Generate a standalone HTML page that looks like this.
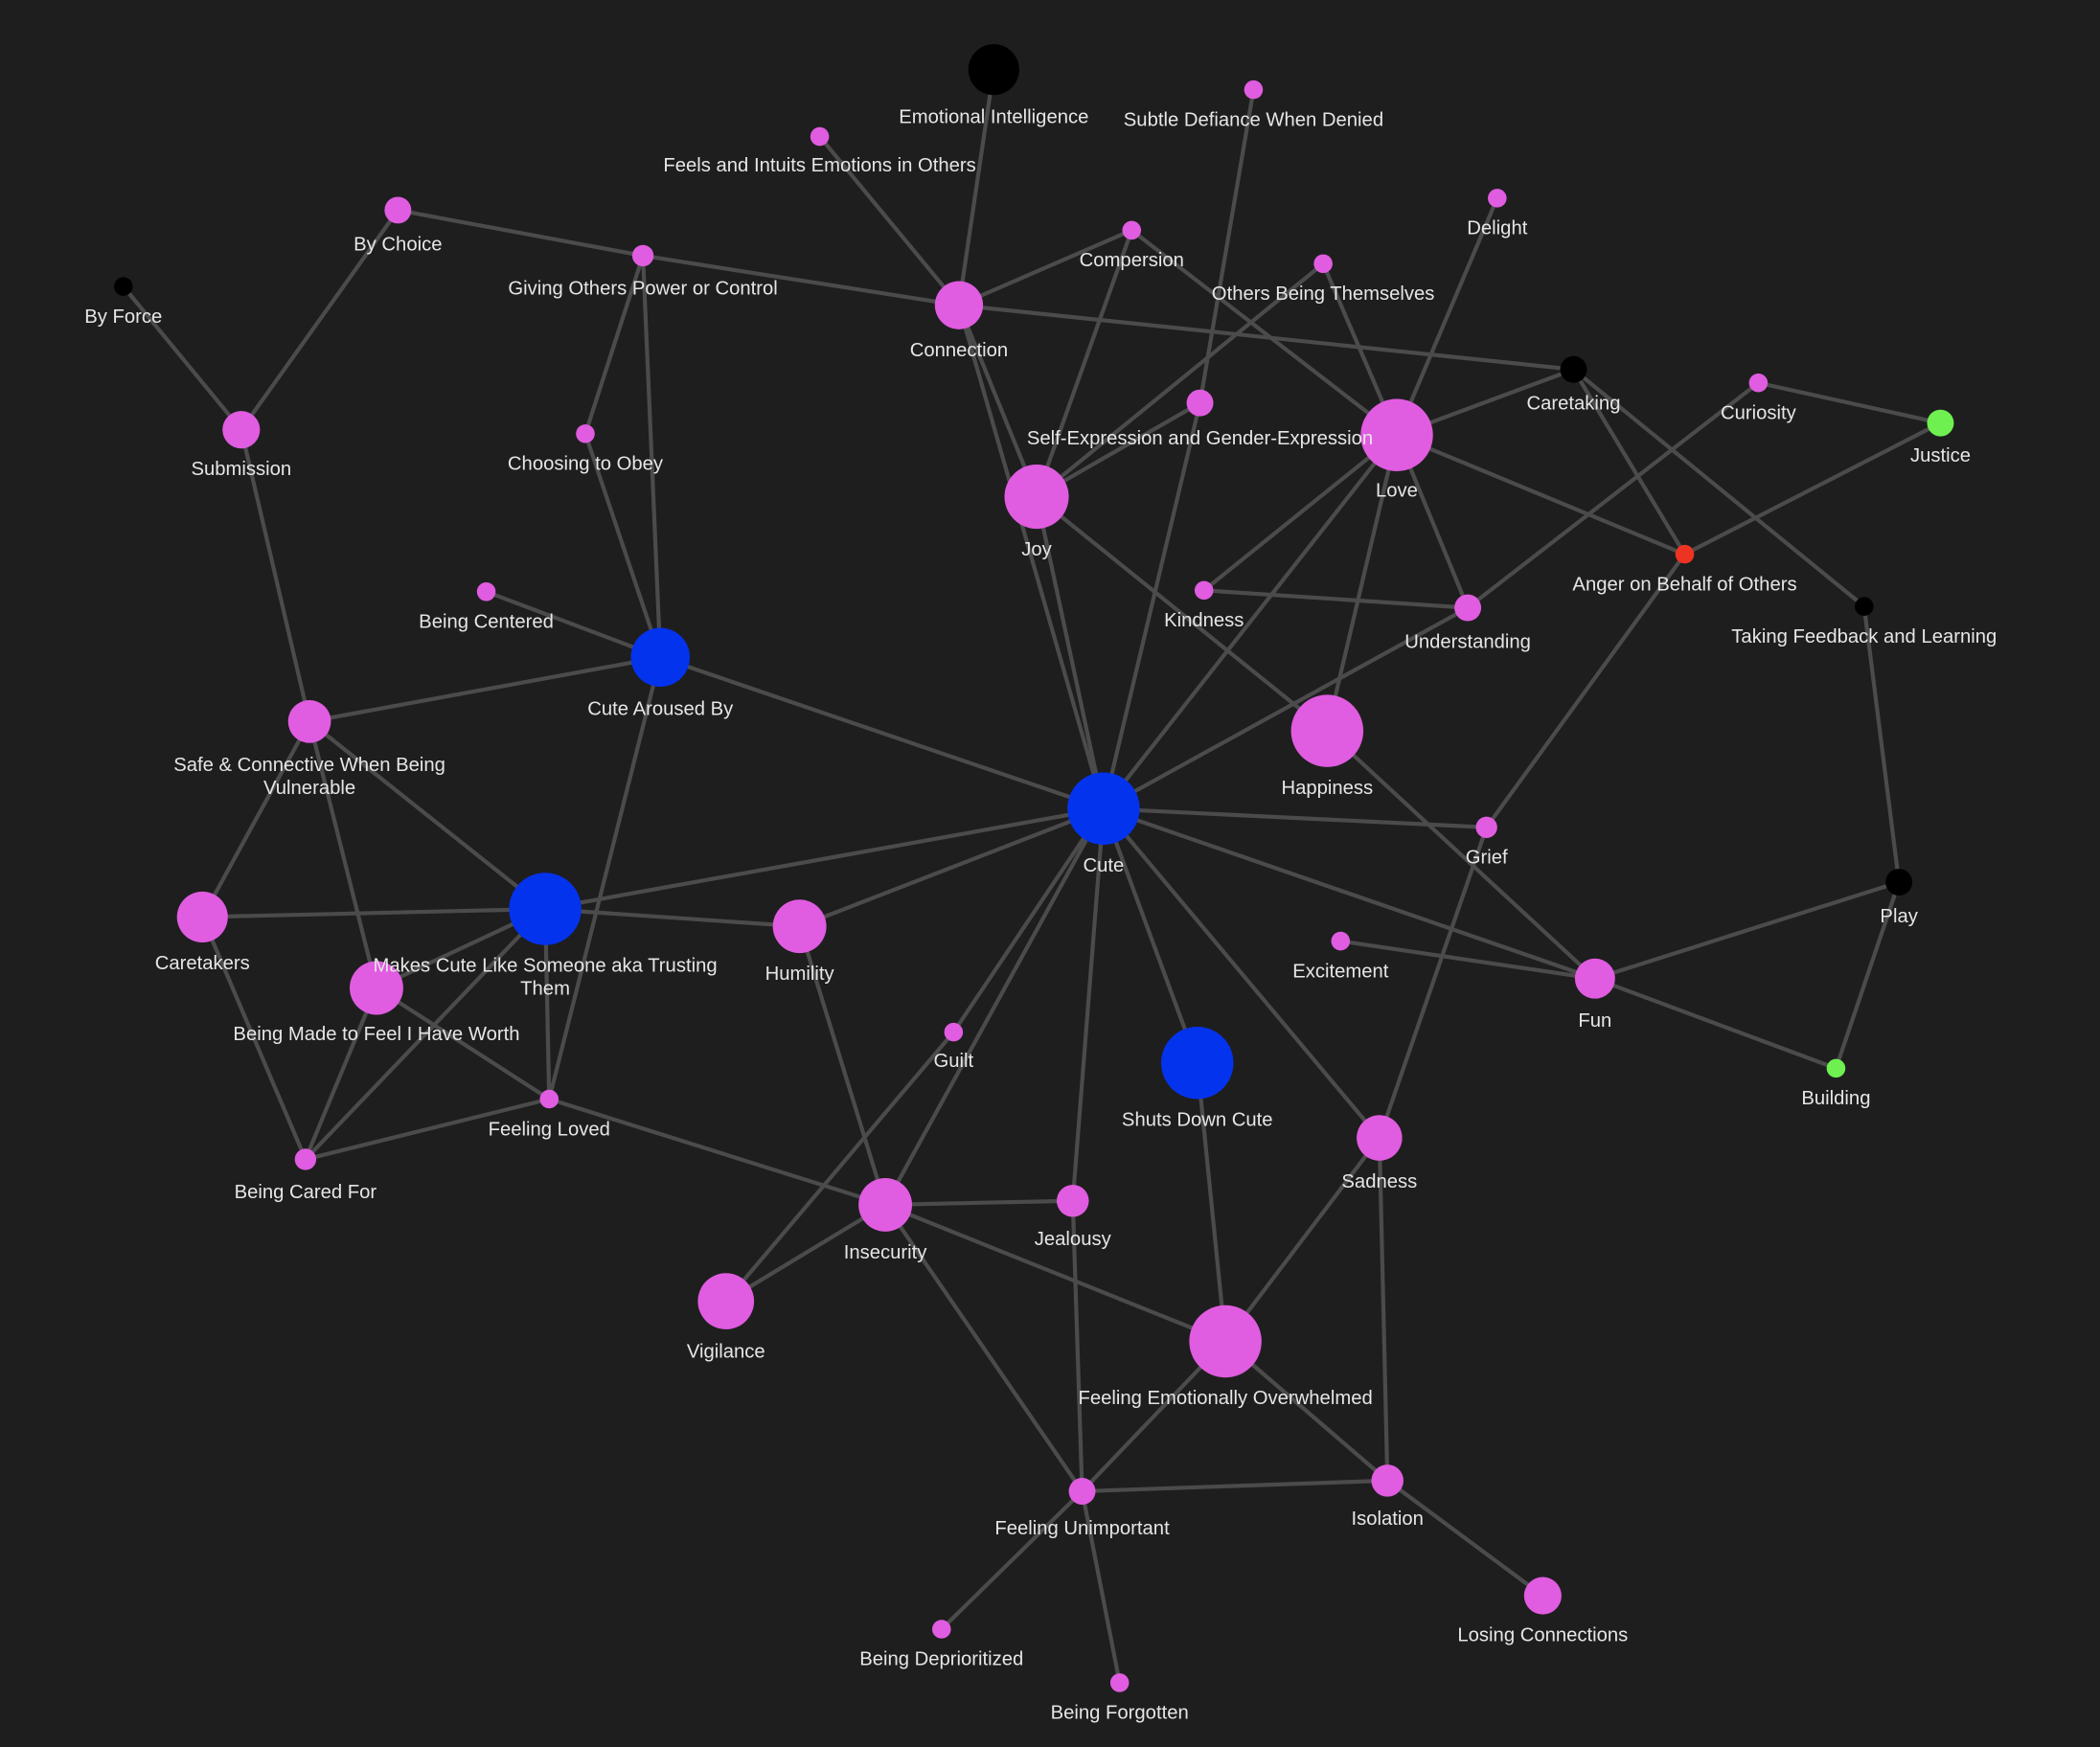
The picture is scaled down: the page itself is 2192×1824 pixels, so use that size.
<!DOCTYPE html>
<html><head><meta charset="utf-8"><style>
html,body{margin:0;padding:0;background:#1e1e1e;}
svg{display:block}
text{font-family:"Liberation Sans",sans-serif;font-size:14.5px;fill:#e6e6e6;text-anchor:middle}
line{stroke:#4b4b4b;stroke-width:3}
</style></head><body>
<svg width="2192" height="1824" viewBox="0 0 1568 1305" xmlns="http://www.w3.org/2000/svg">
<rect width="1568" height="1305" fill="#1e1e1e"/>
<g id="edges">
<line x1="742" y1="52" x2="716" y2="228"/>
<line x1="612" y1="102" x2="716" y2="228"/>
<line x1="297" y1="157" x2="480" y2="191"/>
<line x1="480" y1="191" x2="716" y2="228"/>
<line x1="716" y1="228" x2="1175" y2="276"/>
<line x1="716" y1="228" x2="845" y2="172"/>
<line x1="716" y1="228" x2="774" y2="371"/>
<line x1="716" y1="228" x2="824" y2="604"/>
<line x1="845" y1="172" x2="1043" y2="325"/>
<line x1="845" y1="172" x2="774" y2="371"/>
<line x1="936" y1="67" x2="896" y2="301"/>
<line x1="988" y1="197" x2="774" y2="371"/>
<line x1="988" y1="197" x2="1043" y2="325"/>
<line x1="1118" y1="148" x2="1043" y2="325"/>
<line x1="1043" y1="325" x2="1175" y2="276"/>
<line x1="1043" y1="325" x2="1258" y2="414"/>
<line x1="1043" y1="325" x2="1096" y2="454"/>
<line x1="1043" y1="325" x2="824" y2="604"/>
<line x1="1043" y1="325" x2="899" y2="441"/>
<line x1="1043" y1="325" x2="991" y2="546"/>
<line x1="1175" y1="276" x2="1258" y2="414"/>
<line x1="1175" y1="276" x2="1392" y2="453"/>
<line x1="1313" y1="286" x2="1449" y2="316"/>
<line x1="1313" y1="286" x2="1096" y2="454"/>
<line x1="1449" y1="316" x2="1258" y2="414"/>
<line x1="1258" y1="414" x2="1110" y2="618"/>
<line x1="1392" y1="453" x2="1418" y2="659"/>
<line x1="1418" y1="659" x2="1191" y2="731"/>
<line x1="1418" y1="659" x2="1371" y2="798"/>
<line x1="1191" y1="731" x2="1371" y2="798"/>
<line x1="1191" y1="731" x2="824" y2="604"/>
<line x1="1191" y1="731" x2="1001" y2="703"/>
<line x1="991" y1="546" x2="1191" y2="731"/>
<line x1="774" y1="371" x2="991" y2="546"/>
<line x1="896" y1="301" x2="774" y2="371"/>
<line x1="896" y1="301" x2="824" y2="604"/>
<line x1="899" y1="441" x2="1096" y2="454"/>
<line x1="1096" y1="454" x2="824" y2="604"/>
<line x1="774" y1="371" x2="824" y2="604"/>
<line x1="824" y1="604" x2="1110" y2="618"/>
<line x1="824" y1="604" x2="493" y2="491"/>
<line x1="824" y1="604" x2="407" y2="679"/>
<line x1="824" y1="604" x2="597" y2="692"/>
<line x1="824" y1="604" x2="661" y2="900"/>
<line x1="824" y1="604" x2="712" y2="771"/>
<line x1="712" y1="771" x2="542" y2="972"/>
<line x1="824" y1="604" x2="801" y2="897"/>
<line x1="824" y1="604" x2="894" y2="794"/>
<line x1="824" y1="604" x2="1030" y2="850"/>
<line x1="894" y1="794" x2="915" y2="1002"/>
<line x1="1030" y1="850" x2="915" y2="1002"/>
<line x1="1030" y1="850" x2="1036" y2="1106"/>
<line x1="1110" y1="618" x2="1030" y2="850"/>
<line x1="915" y1="1002" x2="1036" y2="1106"/>
<line x1="915" y1="1002" x2="808" y2="1114"/>
<line x1="661" y1="900" x2="915" y2="1002"/>
<line x1="661" y1="900" x2="801" y2="897"/>
<line x1="661" y1="900" x2="542" y2="972"/>
<line x1="661" y1="900" x2="808" y2="1114"/>
<line x1="661" y1="900" x2="597" y2="692"/>
<line x1="661" y1="900" x2="410" y2="821"/>
<line x1="801" y1="897" x2="808" y2="1114"/>
<line x1="808" y1="1114" x2="1036" y2="1106"/>
<line x1="808" y1="1114" x2="703" y2="1217"/>
<line x1="808" y1="1114" x2="836" y2="1257"/>
<line x1="1036" y1="1106" x2="1152" y2="1192"/>
<line x1="92" y1="214" x2="180" y2="321"/>
<line x1="297" y1="157" x2="180" y2="321"/>
<line x1="180" y1="321" x2="231" y2="539"/>
<line x1="480" y1="191" x2="437" y2="324"/>
<line x1="480" y1="191" x2="493" y2="491"/>
<line x1="437" y1="324" x2="493" y2="491"/>
<line x1="363" y1="442" x2="493" y2="491"/>
<line x1="231" y1="539" x2="493" y2="491"/>
<line x1="493" y1="491" x2="410" y2="821"/>
<line x1="231" y1="539" x2="407" y2="679"/>
<line x1="231" y1="539" x2="151" y2="685"/>
<line x1="231" y1="539" x2="281" y2="738"/>
<line x1="151" y1="685" x2="407" y2="679"/>
<line x1="151" y1="685" x2="228" y2="866"/>
<line x1="407" y1="679" x2="597" y2="692"/>
<line x1="407" y1="679" x2="281" y2="738"/>
<line x1="407" y1="679" x2="410" y2="821"/>
<line x1="407" y1="679" x2="228" y2="866"/>
<line x1="281" y1="738" x2="228" y2="866"/>
<line x1="281" y1="738" x2="410" y2="821"/>
<line x1="228" y1="866" x2="410" y2="821"/>
</g>
<g id="nodes">
<circle cx="742" cy="52" r="19" fill="#000"/>
<circle cx="936" cy="67" r="7" fill="#e05ce0"/>
<circle cx="612" cy="102" r="7" fill="#e05ce0"/>
<circle cx="297" cy="157" r="10" fill="#e05ce0"/>
<circle cx="480" cy="191" r="8" fill="#e05ce0"/>
<circle cx="92" cy="214" r="7" fill="#000"/>
<circle cx="716" cy="228" r="18" fill="#e05ce0"/>
<circle cx="845" cy="172" r="7" fill="#e05ce0"/>
<circle cx="988" cy="197" r="7" fill="#e05ce0"/>
<circle cx="1118" cy="148" r="7" fill="#e05ce0"/>
<circle cx="1175" cy="276" r="10" fill="#000"/>
<circle cx="1313" cy="286" r="7" fill="#e05ce0"/>
<circle cx="1449" cy="316" r="10" fill="#6ef050"/>
<circle cx="180" cy="321" r="14" fill="#e05ce0"/>
<circle cx="437" cy="324" r="7" fill="#e05ce0"/>
<circle cx="896" cy="301" r="10" fill="#e05ce0"/>
<circle cx="1043" cy="325" r="27" fill="#e05ce0"/>
<circle cx="774" cy="371" r="24" fill="#e05ce0"/>
<circle cx="1258" cy="414" r="7" fill="#ee3322"/>
<circle cx="1392" cy="453" r="7" fill="#000"/>
<circle cx="363" cy="442" r="7" fill="#e05ce0"/>
<circle cx="899" cy="441" r="7" fill="#e05ce0"/>
<circle cx="1096" cy="454" r="10" fill="#e05ce0"/>
<circle cx="493" cy="491" r="22" fill="#0433ee"/>
<circle cx="231" cy="539" r="16" fill="#e05ce0"/>
<circle cx="991" cy="546" r="27" fill="#e05ce0"/>
<circle cx="824" cy="604" r="27" fill="#0433ee"/>
<circle cx="1110" cy="618" r="8" fill="#e05ce0"/>
<circle cx="1418" cy="659" r="10" fill="#000"/>
<circle cx="151" cy="685" r="19" fill="#e05ce0"/>
<circle cx="407" cy="679" r="27" fill="#0433ee"/>
<circle cx="597" cy="692" r="20" fill="#e05ce0"/>
<circle cx="1001" cy="703" r="7" fill="#e05ce0"/>
<circle cx="1191" cy="731" r="15" fill="#e05ce0"/>
<circle cx="281" cy="738" r="20" fill="#e05ce0"/>
<circle cx="712" cy="771" r="7" fill="#e05ce0"/>
<circle cx="894" cy="794" r="27" fill="#0433ee"/>
<circle cx="1371" cy="798" r="7" fill="#6ef050"/>
<circle cx="410" cy="821" r="7" fill="#e05ce0"/>
<circle cx="1030" cy="850" r="17" fill="#e05ce0"/>
<circle cx="228" cy="866" r="8" fill="#e05ce0"/>
<circle cx="661" cy="900" r="20" fill="#e05ce0"/>
<circle cx="801" cy="897" r="12" fill="#e05ce0"/>
<circle cx="542" cy="972" r="21" fill="#e05ce0"/>
<circle cx="915" cy="1002" r="27" fill="#e05ce0"/>
<circle cx="808" cy="1114" r="10" fill="#e05ce0"/>
<circle cx="1036" cy="1106" r="12" fill="#e05ce0"/>
<circle cx="1152" cy="1192" r="14" fill="#e05ce0"/>
<circle cx="703" cy="1217" r="7" fill="#e05ce0"/>
<circle cx="836" cy="1257" r="7" fill="#e05ce0"/>
</g>
<g id="labels">
<text x="742" y="92">Emotional Intelligence</text>
<text x="936" y="94">Subtle Defiance When Denied</text>
<text x="612" y="128">Feels and Intuits Emotions in Others</text>
<text x="297" y="187">By Choice</text>
<text x="480" y="220">Giving Others Power or Control</text>
<text x="92" y="241">By Force</text>
<text x="716" y="266">Connection</text>
<text x="845" y="199">Compersion</text>
<text x="988" y="224">Others Being Themselves</text>
<text x="1118" y="175">Delight</text>
<text x="1175" y="306">Caretaking</text>
<text x="1313" y="313">Curiosity</text>
<text x="1449" y="345">Justice</text>
<text x="180" y="355">Submission</text>
<text x="437" y="351">Choosing to Obey</text>
<text x="896" y="332">Self-Expression and Gender-Expression</text>
<text x="1043" y="371">Love</text>
<text x="774" y="415">Joy</text>
<text x="1258" y="441">Anger on Behalf of Others</text>
<text x="1392" y="480">Taking Feedback and Learning</text>
<text x="363" y="469">Being Centered</text>
<text x="899" y="468">Kindness</text>
<text x="1096" y="484">Understanding</text>
<text x="493" y="534">Cute Aroused By</text>
<text x="231" y="576">Safe &amp; Connective When Being</text>
<text x="231" y="593">Vulnerable</text>
<text x="991" y="593">Happiness</text>
<text x="824" y="651">Cute</text>
<text x="1110" y="645">Grief</text>
<text x="1418" y="689">Play</text>
<text x="151" y="724">Caretakers</text>
<text x="407" y="726">Makes Cute Like Someone aka Trusting</text>
<text x="407" y="743">Them</text>
<text x="597" y="732">Humility</text>
<text x="1001" y="730">Excitement</text>
<text x="1191" y="767">Fun</text>
<text x="281" y="777">Being Made to Feel I Have Worth</text>
<text x="712" y="797">Guilt</text>
<text x="894" y="841">Shuts Down Cute</text>
<text x="1371" y="825">Building</text>
<text x="410" y="848">Feeling Loved</text>
<text x="1030" y="887">Sadness</text>
<text x="228" y="895">Being Cared For</text>
<text x="661" y="940">Insecurity</text>
<text x="801" y="930">Jealousy</text>
<text x="542" y="1014">Vigilance</text>
<text x="915" y="1049">Feeling Emotionally Overwhelmed</text>
<text x="808" y="1146">Feeling Unimportant</text>
<text x="1036" y="1139">Isolation</text>
<text x="1152" y="1226">Losing Connections</text>
<text x="703" y="1244">Being Deprioritized</text>
<text x="836" y="1284">Being Forgotten</text>
</g>
</svg>
</body></html>
